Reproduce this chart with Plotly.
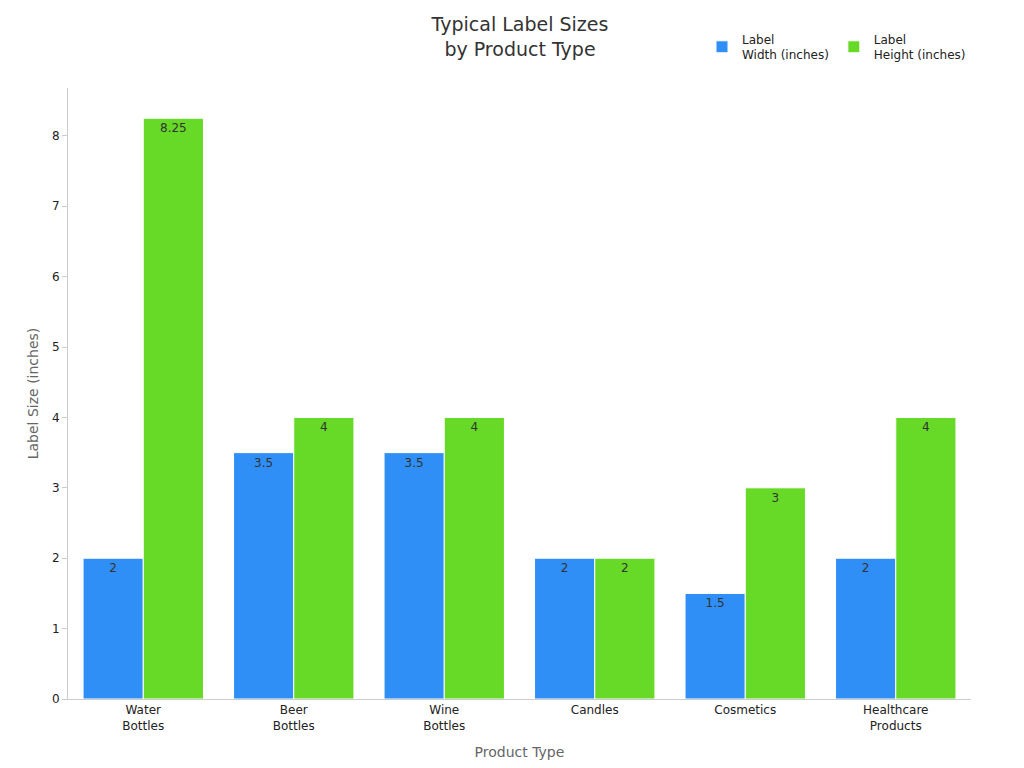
import plotly.graph_objects as go

categories = ["Water<br>Bottles", "Beer<br>Bottles", "Wine<br>Bottles", "Candles", "Cosmetics", "Healthcare<br>Products"]
width_vals = [2, 3.5, 3.5, 2, 1.5, 2]
height_vals = [8.25, 4, 4, 2, 3, 4]

fig = go.Figure()
fig.add_trace(go.Bar(x=categories, y=width_vals, name="Label<br>Width (inches)",
                     marker=dict(color="#2f8ff7", line=dict(color="white", width=1)),
                     text=width_vals, textposition="inside", insidetextanchor="end",
                     textfont=dict(color="#333", size=12)))
fig.add_trace(go.Bar(x=categories, y=height_vals, name="Label<br>Height (inches)",
                     marker=dict(color="#66da26", line=dict(color="white", width=1)),
                     text=height_vals, textposition="inside", insidetextanchor="end",
                     textfont=dict(color="#333", size=12)))

fig.update_layout(
    width=1024, height=768,
    font=dict(family="DejaVu Sans", size=12, color="#222"),
    title=dict(text="Typical Label Sizes<br>by Product Type", x=0.5, xanchor="center", y=0.97, yanchor="top",
               font=dict(size=19, color="#333")),
    barmode="group", bargap=0.2, bargroupgap=0,
    plot_bgcolor="white", paper_bgcolor="white",
    margin=dict(l=60, r=61, t=80, b=77),
    legend=dict(orientation="h", x=1, xanchor="right", y=1.03, yanchor="bottom", font=dict(size=12)),
    xaxis=dict(title=dict(text="Product Type", font=dict(size=14, color="#666")), showline=True, linecolor="#ccc",
               ticks="", tickfont=dict(size=12), automargin=False),
    yaxis=dict(title=dict(text="Label Size (inches)", font=dict(size=14, color="#666"), standoff=10), range=[0, 8.68],
               showline=True, linecolor="#ccc", ticks="outside", tickcolor="#ccc", showgrid=False,
               zeroline=False, dtick=1, automargin=False),
)
fig.write_html("out.html")
